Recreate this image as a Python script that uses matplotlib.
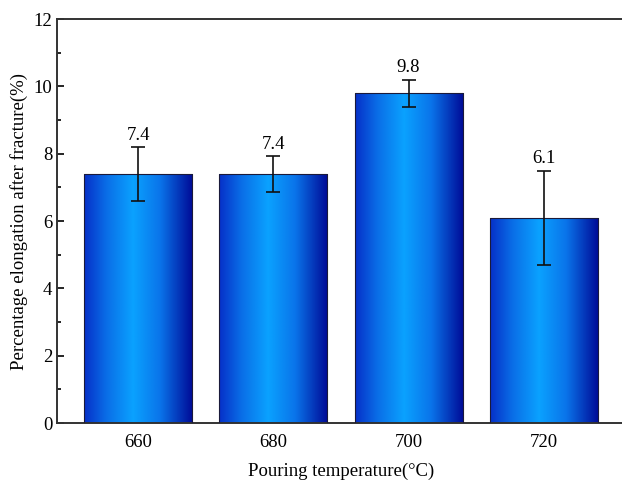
import numpy as np
import matplotlib.pyplot as plt
from matplotlib.colors import LinearSegmentedColormap

plt.rcParams['font.family'] = ['Liberation Serif', 'DejaVu Serif']

# data
temperatures = ['660', '680', '700', '720']
elongation = [7.4, 7.4, 9.8, 6.1]
err_up = [0.8, 0.53, 0.4, 1.4]
err_down = [0.8, 0.55, 0.4, 1.4]

# horizontal blue gradient for the bars
grad = LinearSegmentedColormap.from_list(
    'bluebar', [(0.0, '#0630c8'), (0.2, '#0a6ce6'), (0.45, '#0aa2ff'),
                (0.7, '#0a74ea'), (1.0, '#000a96')])

fig = plt.figure(figsize=(6.22, 4.82), dpi=100)
ax = fig.add_axes([57 / 622, 59 / 482, 568 / 622, 404 / 482])

x = np.arange(len(temperatures))
bars = ax.bar(x, elongation, width=0.8, color='none', edgecolor='#1a1a3a', linewidth=0.8, zorder=3)

g = np.linspace(0, 1, 256).reshape(1, -1)
for bar in bars:
    x0, y0 = bar.get_x(), bar.get_y()
    w, h = bar.get_width(), bar.get_height()
    im = ax.imshow(g, cmap=grad, aspect='auto', extent=[x0, x0 + w, y0, y0 + h],
                   zorder=2, interpolation='bilinear')
    im.set_clip_path(bar)

ax.errorbar(x, elongation, yerr=[err_down, err_up], fmt='none', ecolor='#111111',
            elinewidth=1.2, capsize=5, capthick=1.2, zorder=4)

# value labels above the error bars
for xi, v, e in zip(x, elongation, err_up):
    ax.text(xi, v + e + 0.1, f'{v:.1f}', ha='center', va='bottom', fontsize=13.5)

ax.set_xlim(-0.6, 3.6)
ax.set_ylim(0, 12)
ax.set_xticks(x)
ax.set_xticklabels(temperatures)
ax.set_yticks(range(0, 13, 2))
ax.set_yticks(range(1, 12, 2), minor=True)
ax.tick_params(axis='both', which='both', direction='in', labelsize=13.5)
ax.tick_params(axis='y', which='major', length=5, width=1.2)
ax.tick_params(axis='y', which='minor', length=3, width=1.2)
ax.tick_params(axis='x', which='major', length=5, width=1.2, pad=8)

for s in ax.spines.values():
    s.set_linewidth(1.4)
    s.set_color('#333333')

ax.set_xlabel('Pouring temperature(°C)', fontsize=13.5, labelpad=8)
ax.set_ylabel('Percentage elongation after fracture(%)', fontsize=13.5, labelpad=4)

fig.savefig('out.png', dpi=100)
